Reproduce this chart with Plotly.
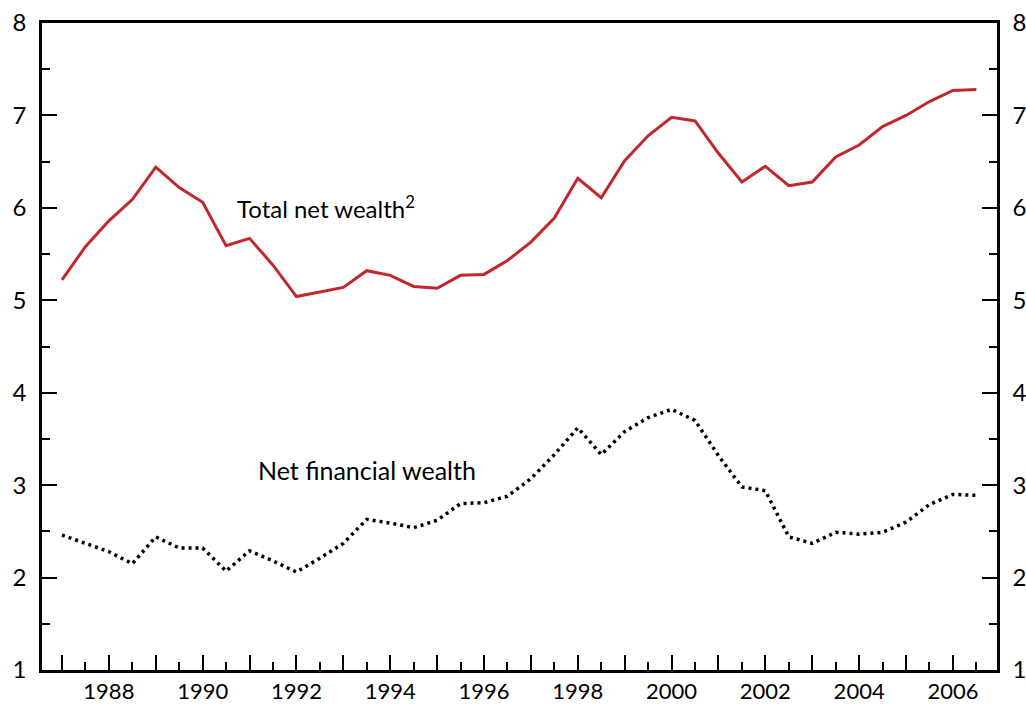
import plotly.graph_objects as go

years = [1987.0, 1987.5, 1988.0, 1988.5, 1989.0, 1989.5, 1990.0, 1990.5, 1991.0, 1991.5,
         1992.0, 1992.5, 1993.0, 1993.5, 1994.0, 1994.5, 1995.0, 1995.5, 1996.0, 1996.5,
         1997.0, 1997.5, 1998.0, 1998.5, 1999.0, 1999.5, 2000.0, 2000.5, 2001.0, 2001.5,
         2002.0, 2002.5, 2003.0, 2003.5, 2004.0, 2004.5, 2005.0, 2005.5, 2006.0, 2006.5]

total_net_wealth = [5.22, 5.58, 5.86, 6.09, 6.44, 6.22, 6.06, 5.59, 5.67, 5.38,
                    5.04, 5.09, 5.14, 5.32, 5.27, 5.15, 5.13, 5.27, 5.28, 5.43,
                    5.63, 5.89, 6.32, 6.11, 6.51, 6.78, 6.98, 6.94, 6.59, 6.28,
                    6.45, 6.24, 6.28, 6.55, 6.68, 6.88, 7.00, 7.15, 7.27, 7.28]

net_financial_wealth = [2.46, 2.37, 2.28, 2.15, 2.44, 2.32, 2.32, 2.07, 2.29, 2.18,
                        2.06, 2.21, 2.37, 2.63, 2.59, 2.54, 2.62, 2.80, 2.81, 2.88,
                        3.07, 3.33, 3.62, 3.33, 3.58, 3.73, 3.82, 3.70, 3.32, 2.98,
                        2.94, 2.44, 2.37, 2.49, 2.47, 2.49, 2.60, 2.79, 2.90, 2.89]

major_x_ticks = list(range(1987, 2007))
x_tick_labels = [str(y) if y % 2 == 0 else "" for y in major_x_ticks]
minor_x_ticks = [y + 0.5 for y in range(1987, 2007)]
y_ticks = [1, 2, 3, 4, 5, 6, 7, 8]
minor_y_ticks = [1.5, 2.5, 3.5, 4.5, 5.5, 6.5, 7.5]

FONT = "Lato, 'DejaVu Sans', sans-serif"

fig = go.Figure()
fig.add_trace(go.Scatter(x=years, y=total_net_wealth, mode="lines",
                         line=dict(color="#c1272d", width=3), showlegend=False))
fig.add_trace(go.Scatter(x=years, y=net_financial_wealth, mode="lines",
                         line=dict(color="#000000", width=3.5, dash="3px,4px"),
                         showlegend=False))
# invisible trace to activate the right axis
fig.add_trace(go.Scatter(x=[years[0]], y=[total_net_wealth[0]], yaxis="y2",
                         mode="markers", marker=dict(opacity=0), showlegend=False,
                         hoverinfo="skip"))

axis_common = dict(showgrid=False, zeroline=False, showline=True, linecolor="black",
                   linewidth=2.5, ticks="inside", tickcolor="black", tickwidth=2,
                   ticklen=15, automargin=False, ticklabeloverflow="allow")
minor_style = dict(ticks="inside", ticklen=8, tickwidth=2, tickcolor="black")

fig.update_layout(
    width=1026, height=704,
    margin=dict(l=42, r=29, t=23, b=34, autoexpand=False),
    paper_bgcolor="white", plot_bgcolor="white",
    font=dict(family=FONT, color="black"),
    xaxis=dict(range=[1986.574, 2006.94], tickmode="array", tickvals=major_x_ticks,
               ticktext=x_tick_labels, mirror=True, ticklabelstandoff=0,
               tickfont=dict(family=FONT, size=22, color="black"),
               minor=dict(tickvals=minor_x_ticks, **minor_style),
               **axis_common),
    yaxis=dict(range=[1, 8], tickmode="array", tickvals=y_ticks, ticklabelstandoff=8,
               tickfont=dict(family=FONT, size=24, color="black"),
               minor=dict(tickvals=minor_y_ticks, **minor_style),
               **axis_common),
    yaxis2=dict(range=[1, 8], tickmode="array", tickvals=y_ticks, overlaying="y",
                side="right", ticklabelstandoff=8,
                tickfont=dict(family=FONT, size=24, color="black"),
                minor=dict(tickvals=minor_y_ticks, **minor_style),
                **axis_common),
    annotations=[
        dict(x=1990.69, y=6.01, xref="x", yref="y", text="Total net wealth<sup>2</sup>",
             showarrow=False, xanchor="left", yanchor="middle",
             font=dict(family=FONT, size=24, color="black")),
        dict(x=1991.14, y=3.16, xref="x", yref="y", text="Net financial wealth",
             showarrow=False, xanchor="left", yanchor="middle",
             font=dict(family=FONT, size=25, color="black")),
    ],
)

# remove the default 8px page margin so the figure fills the window exactly
fig.write_html("out.html",
               config={"displayModeBar": False},
               post_script="document.body.style.margin='0px';"
                           "document.body.style.overflow='hidden';")
